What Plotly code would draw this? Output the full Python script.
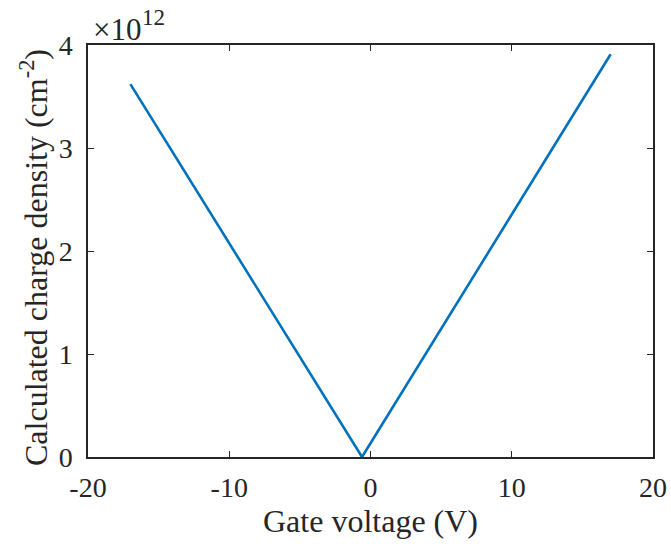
import plotly.graph_objects as go

gate_voltage = [-17, -0.6, 17]
charge_density = [3.62, 0.0, 3.91]  # in units of 1e12 cm^-2
x_ticks = [-20, -10, 0, 10, 20]
y_ticks = [0, 1, 2, 3, 4]

font_family = "Liberation Serif, Times New Roman, serif"
txt = "#262626"

fig = go.Figure()
fig.add_trace(go.Scatter(x=gate_voltage, y=charge_density, mode="lines",
                         line=dict(color="#0072BD", width=2.6), showlegend=False))

axis_common = dict(showline=True, linecolor=txt, linewidth=1.5, mirror="ticks",
                   ticks="inside", ticklen=6, tickwidth=1.2, tickcolor=txt,
                   showgrid=False, zeroline=False, automargin=False,
                   tickfont=dict(family=font_family, size=28, color=txt))

fig.update_xaxes(range=[-20, 20], tickvals=x_ticks, ticktext=[str(v) for v in x_ticks],
                 ticklabelstandoff=5,
                 title=dict(text="Gate voltage (V)", font=dict(family=font_family, size=32, color=txt), standoff=0),
                 **axis_common)
fig.update_yaxes(range=[0, 4], tickvals=y_ticks, ticktext=[str(v) for v in y_ticks],
                 ticklabelstandoff=8, **axis_common)

fig.add_annotation(text="Calculated charge density (cm<sup>-2</sup>)", xref="paper", yref="paper",
                   x=0.0, y=0.5, xanchor="center", yanchor="middle", textangle=-90,
                   xshift=-54, yshift=-7, showarrow=False,
                   font=dict(family=font_family, size=32, color=txt))

fig.add_annotation(text="×10", xref="paper", yref="paper", x=0.0, y=1.0,
                   xanchor="left", yanchor="bottom", showarrow=False, yshift=-4, xshift=3,
                   font=dict(family=font_family, size=31, color=txt))
fig.add_annotation(text="12", xref="paper", yref="paper", x=0.0, y=1.0,
                   xanchor="left", yanchor="bottom", showarrow=False, yshift=13, xshift=52,
                   font=dict(family=font_family, size=23, color=txt))

fig.update_layout(width=671, height=552, margin=dict(l=88, r=18, t=45, b=95, autoexpand=False),
                  plot_bgcolor="white", paper_bgcolor="white")

fig.write_html("out.html")
